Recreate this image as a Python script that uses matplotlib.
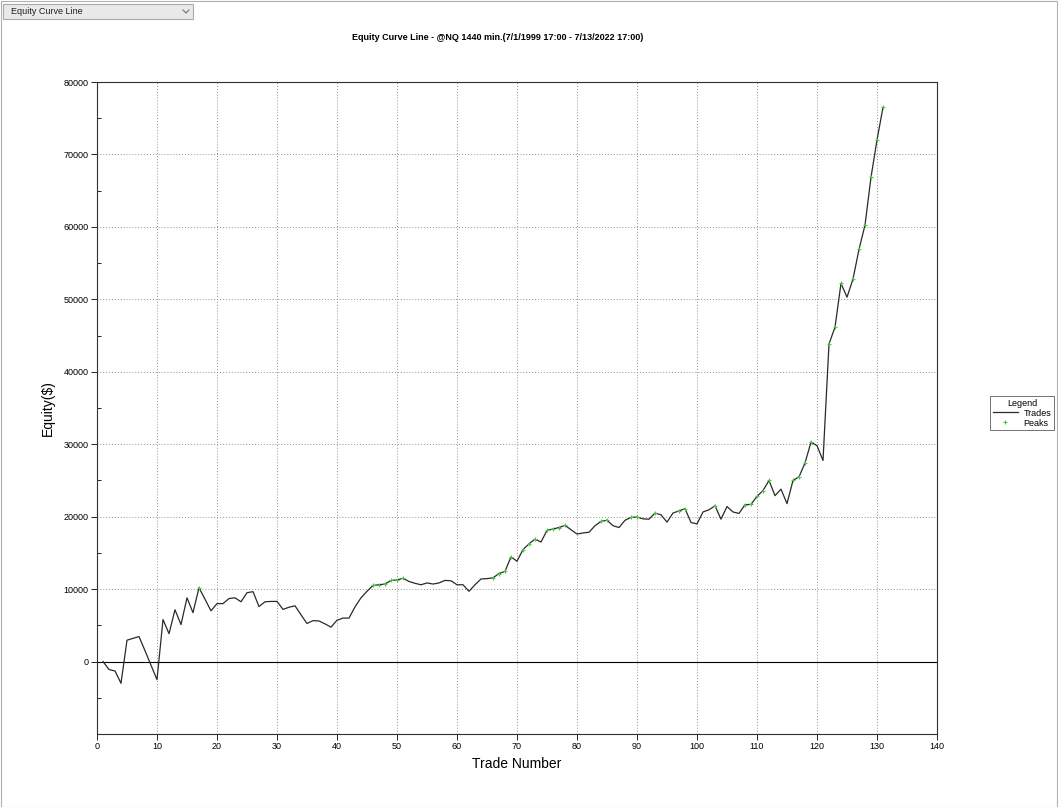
import matplotlib.pyplot as plt
from matplotlib.patches import Rectangle
from matplotlib.lines import Line2D

# equity after each closed trade
equity = [
    0, -1100, -1300, -3000, 2950, 3200, 3450, 1500, -500, -2500,
    5800, 3850, 7150, 5100, 8800, 6750, 10200, 8600, 7000, 8000,
    8000, 8700, 8800, 8250, 9500, 9650, 7600, 8250, 8300, 8300,
    7200, 7500, 7700, 6450, 5250, 5650, 5600, 5200, 4750, 5700,
    6000, 6000, 7550, 8800, 9700, 10500, 10600, 10700, 11200, 11250,
    11500, 11050, 10800, 10600, 10850, 10700, 10850, 11200, 11150, 10600,
    10600, 9700, 10600, 11400, 11450, 11550, 12150, 12450, 14450, 13850,
    15450, 16250, 16900, 16500, 18100, 18300, 18500, 18800, 18200, 17600,
    17750, 17850, 18750, 19350, 19500, 18750, 18500, 19500, 19900, 19950,
    19700, 19650, 20500, 20250, 19250, 20500, 20800, 21100, 19200, 19000,
    20650, 20950, 21500, 19650, 21400, 20650, 20450, 21650, 21700, 22800,
    23600, 25000, 22900, 23800, 21800, 25000, 25500, 27400, 30300, 29800,
    27750, 43850, 46150, 52200, 50300, 52800, 56900, 60250, 66850, 72000,
    76500,
]
trades = list(range(1, len(equity) + 1))

# trades marcados como pico
peak_trades = [17, 46, 47, 48, 49, 50, 51, 66, 67, 68, 69, 71, 72, 73,
               75, 76, 77, 78, 84, 85, 89, 90, 93, 97, 98, 103, 108, 109,
               110, 111, 112, 116, 117, 118, 119, 122, 123, 124, 126, 127,
               128, 129, 130, 131]
peak_y = [equity[t - 1] for t in peak_trades]

x_ticks = list(range(0, 141, 10))
y_ticks = list(range(0, 80001, 10000))

titulo = 'Equity Curve Line - @NQ 1440 min.(7/1/1999 17:00 - 7/13/2022 17:00)'

plt.rcParams['font.family'] = ['Liberation Sans', 'DejaVu Sans']

fig = plt.figure(figsize=(10.58, 8.07), dpi=100)
W, H = 1058, 807

# moldura da janela
fig.patches.append(Rectangle((0.5 / W, 0.5 / H), 1 - 1.5 / W, 1 - 1.5 / H,
                             transform=fig.transFigure, fill=False,
                             edgecolor='#b0b0b0', linewidth=0.8))

# combo box no canto
fig.patches.append(Rectangle((3 / W, 1 - 19 / H), 190 / W, 15 / H,
                             transform=fig.transFigure, facecolor='#e9e9e9',
                             edgecolor='#a8a8a8', linewidth=0.8))
fig.text(11 / W, 1 - 11.5 / H, 'Equity Curve Line', fontsize=6.5,
         va='center', ha='left', color='#202020')
fig.lines.append(Line2D([183 / W, 186 / W, 189 / W],
                        [1 - 10 / H, 1 - 13 / H, 1 - 10 / H],
                        transform=fig.transFigure, color='#707070',
                        linewidth=0.8))

fig.text(498 / W, 1 - 37 / H, titulo, fontsize=6.5, fontweight='bold',
         ha='center', va='center')

ax = fig.add_axes([97 / W, 1 - 734 / H, 840 / W, 652 / H])

ax.plot(trades, equity, color='#2a2a2a', linewidth=0.9, label='Trades',
        zorder=3)
ax.plot(peak_trades, peak_y, linestyle='none', marker='+', markersize=3.5,
        markeredgewidth=0.8, color='#45c845', label='Peaks', zorder=4)

ax.axhline(0, color='black', linewidth=0.8, zorder=2)

ax.set_xlim(0, 140)
ax.set_ylim(-10000, 80000)
ax.set_xticks(x_ticks)
ax.set_yticks(y_ticks)
ax.set_yticks(list(range(-5000, 80000, 10000)), minor=True)
ax.tick_params(axis='both', which='major', labelsize=6.5, length=4,
               width=0.6, direction='out', pad=2)
ax.tick_params(axis='y', which='minor', length=3, width=0.6, direction='in')
for lbl in ax.get_xticklabels():
    lbl.set_fontstretch('condensed')

ax.grid(True, which='major', linestyle=(0, (1, 2)), color='#909090',
        linewidth=0.7)

for s in ax.spines.values():
    s.set_linewidth(0.8)
    s.set_color('#303030')

ax.set_xlabel('Trade Number', fontsize=10, labelpad=4)
ax.set_ylabel('Equity($)', fontsize=10, labelpad=6)

leg = ax.legend(loc='upper left', bbox_to_anchor=(990 / W, 1 - 396 / H),
                bbox_transform=fig.transFigure, title='Legend', fontsize=6.5,
                title_fontsize=6.5, frameon=True, fancybox=False,
                handlelength=2.8, borderpad=0.3, labelspacing=0.1,
                handletextpad=0.6, borderaxespad=0)
leg.get_frame().set_edgecolor('#505050')
leg.get_frame().set_linewidth(0.7)

fig.savefig('out.png', dpi=100)
